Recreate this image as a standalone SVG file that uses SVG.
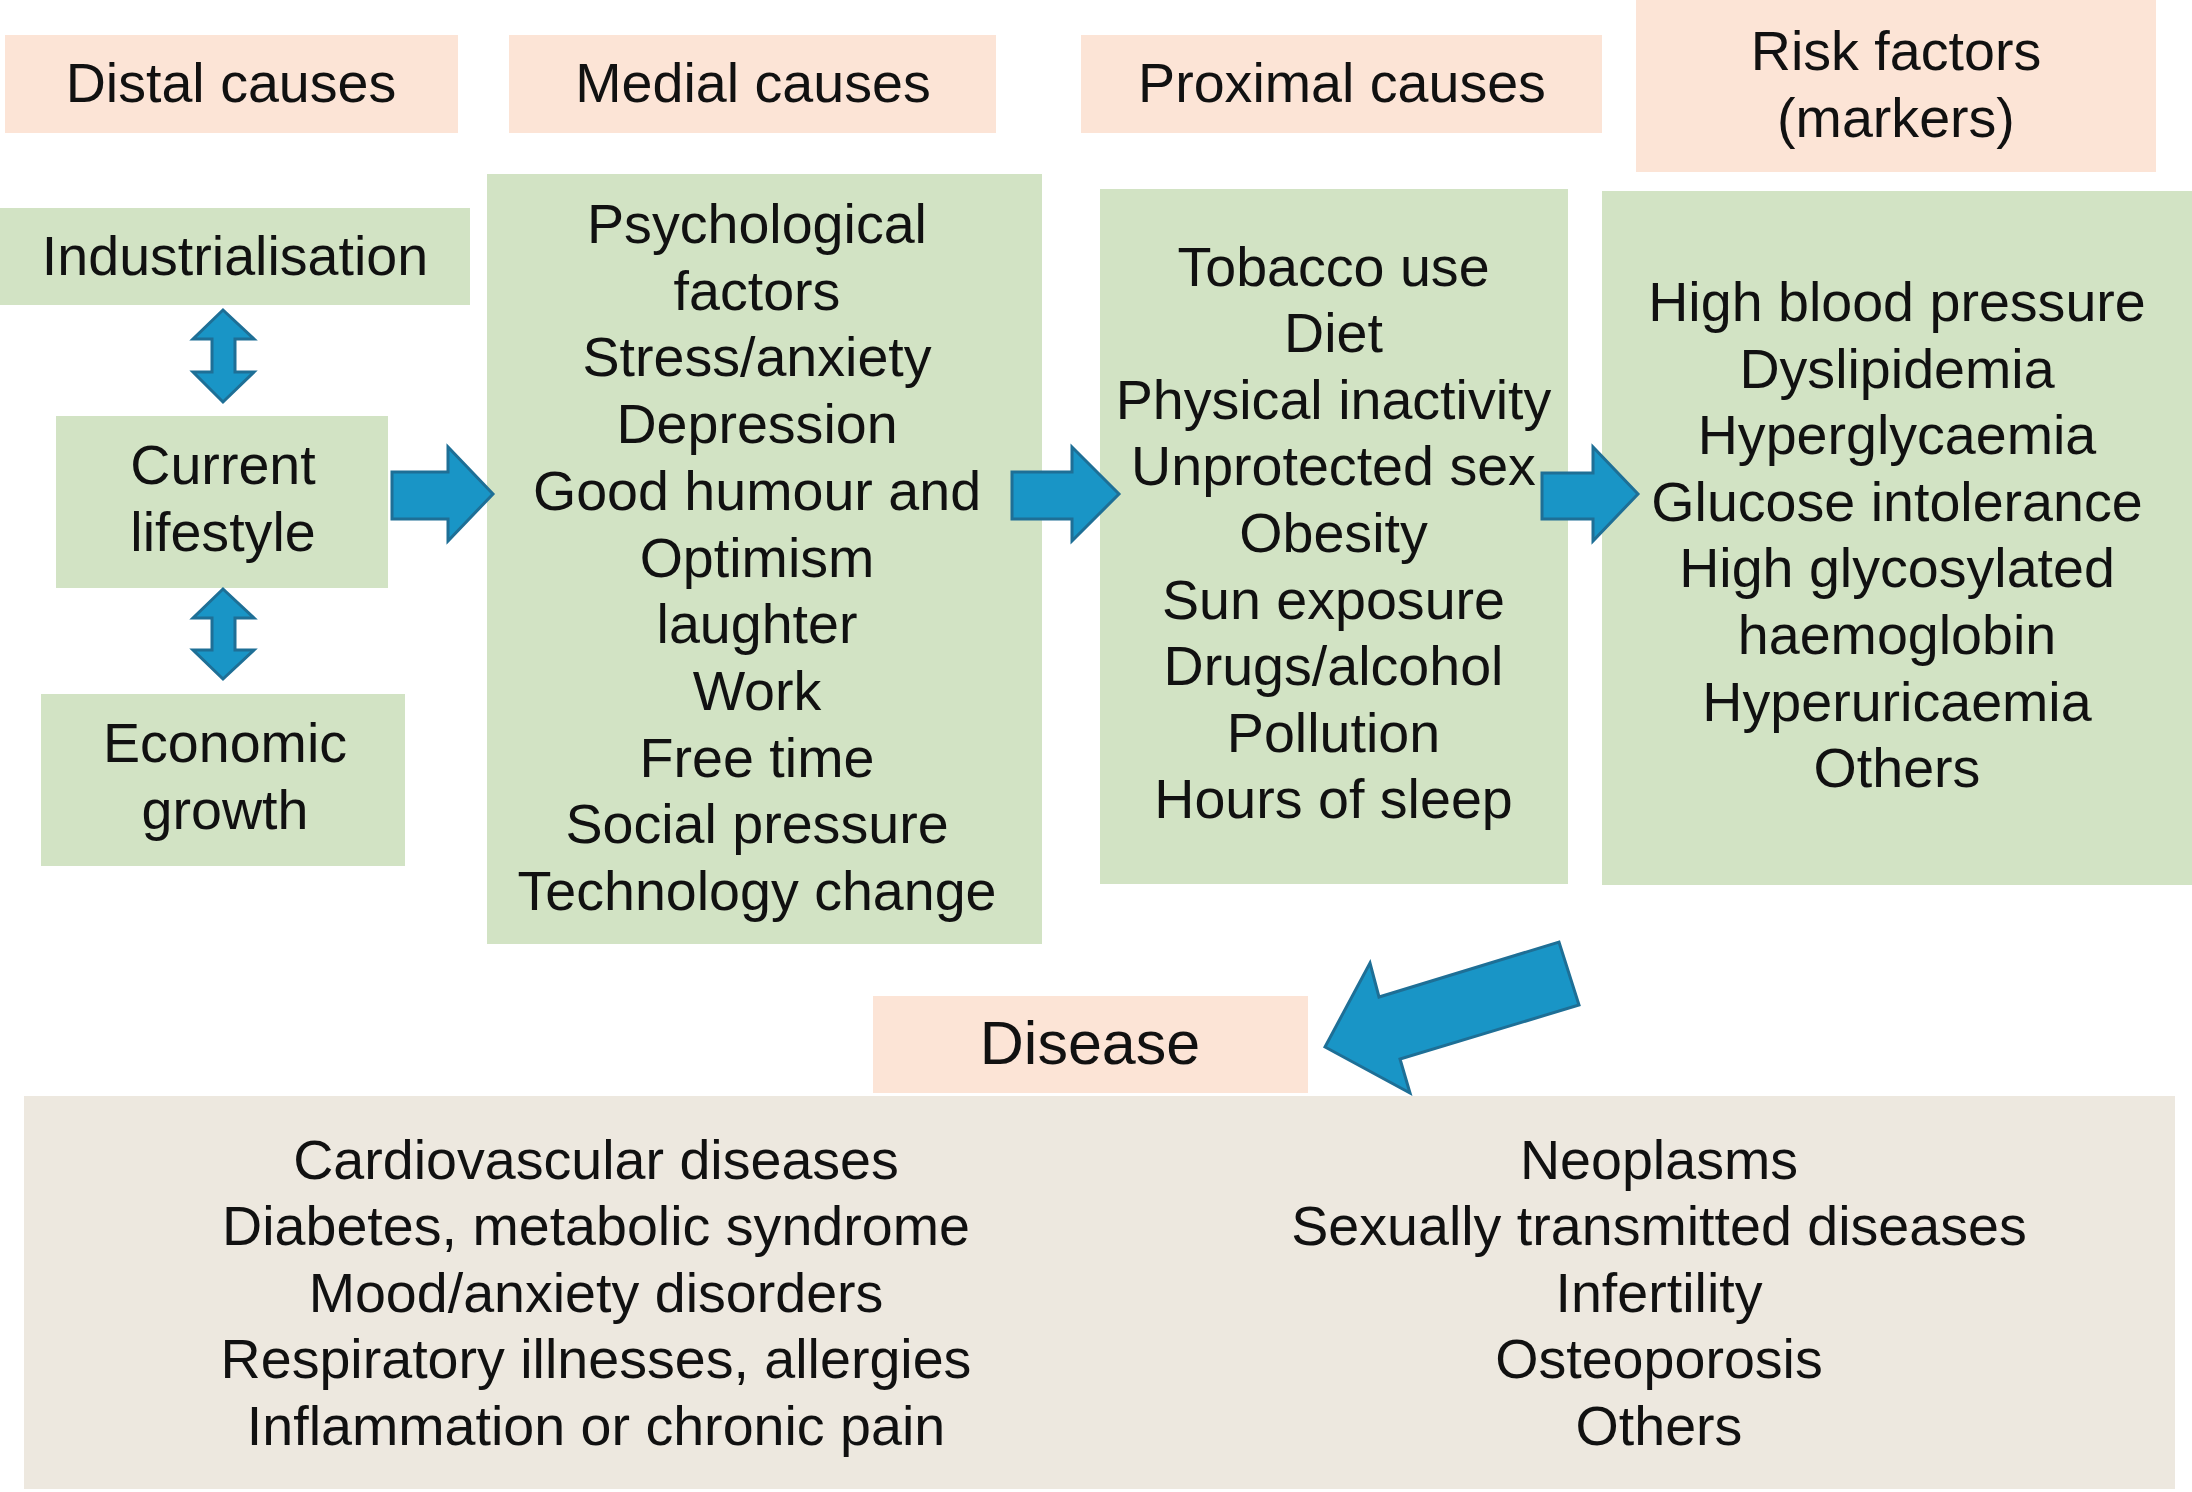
<svg xmlns="http://www.w3.org/2000/svg" width="2192" height="1492" viewBox="0 0 2192 1492">
<style>
.hdr{fill:#FCE4D6}
.grn{fill:#D2E3C4}
.dis{fill:#EDE8DF}
.arr{fill:#1995C6;stroke:#1E6F96;stroke-width:3;stroke-linejoin:miter}
text{font-family:"Liberation Sans",Arial,sans-serif;font-size:55.6px;fill:#111;text-anchor:middle}
.big{font-size:61px}
</style>
<rect width="2192" height="1492" fill="#FFFFFF"/>
<g id="distal-header"><rect class="hdr" x="5" y="35" width="453" height="98"/><text x="231" y="102">Distal causes</text></g>
<g id="medial-header"><rect class="hdr" x="509" y="35" width="487" height="98"/><text x="753" y="102">Medial causes</text></g>
<g id="proximal-header"><rect class="hdr" x="1081" y="35" width="521" height="98"/><text x="1342" y="102">Proximal causes</text></g>
<g id="risk-header"><rect class="hdr" x="1636" y="0" width="520" height="172"/><text x="1896" y="70">Risk factors</text><text x="1896" y="137">(markers)</text></g>
<g id="industrialisation"><rect class="grn" x="0" y="208" width="470" height="97"/><text x="235" y="275">Industrialisation</text></g>
<g id="current-lifestyle"><rect class="grn" x="56" y="416" width="332" height="172"/><text x="223" y="484">Current</text><text x="223" y="551">lifestyle</text></g>
<g id="economic-growth"><rect class="grn" x="41" y="694" width="364" height="172"/><text x="225" y="762">Economic</text><text x="225" y="829">growth</text></g>
<g id="medial"><rect class="grn" x="487" y="174" width="555" height="770"/>
<text x="757" y="243">Psychological</text>
<text x="757" y="309.7">factors</text>
<text x="757" y="376.4">Stress/anxiety</text>
<text x="757" y="443.1">Depression</text>
<text x="757" y="509.8">Good humour and</text>
<text x="757" y="576.5">Optimism</text>
<text x="757" y="643.2">laughter</text>
<text x="757" y="709.9">Work</text>
<text x="757" y="776.6">Free time</text>
<text x="757" y="843.3">Social pressure</text>
<text x="757" y="910">Technology change</text>
</g>
<g id="proximal"><rect class="grn" x="1100" y="189" width="468" height="695"/>
<text x="1333.5" y="285.5">Tobacco use</text>
<text x="1333.5" y="352.1">Diet</text>
<text x="1333.5" y="418.7">Physical inactivity</text>
<text x="1333.5" y="485.3">Unprotected sex</text>
<text x="1333.5" y="551.9">Obesity</text>
<text x="1333.5" y="618.5">Sun exposure</text>
<text x="1333.5" y="685.1">Drugs/alcohol</text>
<text x="1333.5" y="751.7">Pollution</text>
<text x="1333.5" y="818.3">Hours of sleep</text>
</g>
<g id="risk"><rect class="grn" x="1602" y="191" width="590" height="694"/>
<text x="1897" y="321">High blood pressure</text>
<text x="1897" y="387.6">Dyslipidemia</text>
<text x="1897" y="454.2">Hyperglycaemia</text>
<text x="1897" y="520.8">Glucose intolerance</text>
<text x="1897" y="587.4">High glycosylated</text>
<text x="1897" y="654">haemoglobin</text>
<text x="1897" y="720.6">Hyperuricaemia</text>
<text x="1897" y="787.2">Others</text>
</g>
<g id="disease-header"><rect class="hdr" x="873" y="996" width="435" height="97"/><text class="big" x="1090" y="1064">Disease</text></g>
<g id="diseases"><rect class="dis" x="24" y="1096" width="2151" height="393"/>
<text x="596" y="1178.5">Cardiovascular diseases</text>
<text x="596" y="1245">Diabetes, metabolic syndrome</text>
<text x="596" y="1311.5">Mood/anxiety disorders</text>
<text x="596" y="1378">Respiratory illnesses, allergies</text>
<text x="596" y="1444.5">Inflammation or chronic pain</text>
<text x="1659" y="1178.5">Neoplasms</text>
<text x="1659" y="1245">Sexually transmitted diseases</text>
<text x="1659" y="1311.5">Infertility</text>
<text x="1659" y="1378">Osteoporosis</text>
<text x="1659" y="1444.5">Others</text>
</g>
<g id="connectors">
<polygon class="arr" points="223,310 254,339 235,339 235,372 254,372 223,402 193,372 212,372 212,339 193,339"/>
<polygon class="arr" points="223,589 254,618 235,618 235,650 254,650 223,679 193,650 212,650 212,618 193,618"/>
<polygon class="arr" points="392,472 448,472 448,447 493,494 448,541 448,519 392,519"/>
<polygon class="arr" points="1012,472 1072,472 1072,447 1119,494 1072,541 1072,519 1012,519"/>
<polygon class="arr" points="1542,473 1593,473 1593,447 1638,494 1593,541 1593,519 1542,519"/>
<polygon class="arr" points="1325,1047 1370,963 1379,997 1559,942 1579,1005 1400,1059 1410,1093"/>
</g>
</svg>
